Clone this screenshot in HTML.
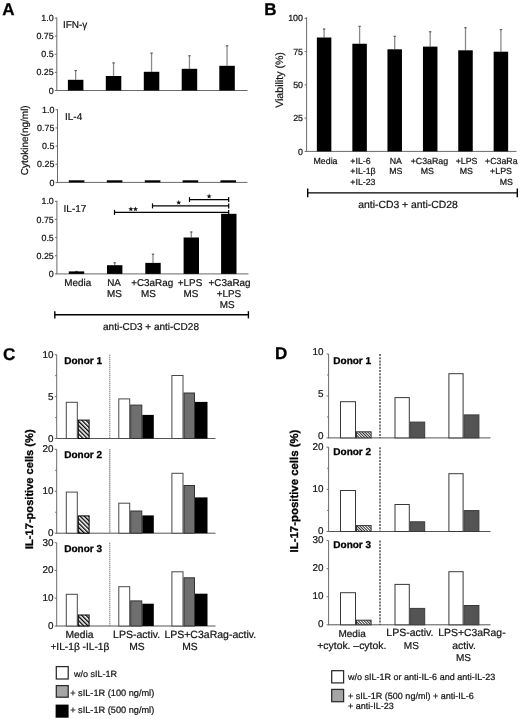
<!DOCTYPE html>
<html><head><meta charset="utf-8"><style>
html,body{margin:0;padding:0;background:#fff;}
svg{display:block;filter:blur(0.3px);}
text{font-family:"Liberation Sans", sans-serif;text-rendering:geometricPrecision;}
</style></head><body>
<svg width="520" height="719" viewBox="0 0 520 719" font-family='"Liberation Sans", sans-serif'>
<defs>
<pattern id="hatchC" patternUnits="userSpaceOnUse" width="3" height="3" patternTransform="rotate(-45)">
<rect width="3" height="3" fill="#fff"/><rect width="1.35" height="3" fill="#000"/></pattern>
<pattern id="hatchD" patternUnits="userSpaceOnUse" width="2" height="2" patternTransform="rotate(-45)">
<rect width="2" height="2" fill="#fff"/><rect width="0.95" height="2" fill="#222"/></pattern>
</defs>
<rect width="520" height="719" fill="#fff"/>
<text x="2.2" y="14.6" font-size="17" text-anchor="start" font-weight="bold" fill="#000" stroke="#000" stroke-width="0.3">A</text>
<line x1="56.8" y1="17.5" x2="56.8" y2="91" stroke="#6a6a6a" stroke-width="1"/>
<line x1="56.8" y1="90.5" x2="247.5" y2="90.5" stroke="#6a6a6a" stroke-width="1"/>
<line x1="54.8" y1="90.5" x2="56.8" y2="90.5" stroke="#6a6a6a" stroke-width="1"/>
<text x="53.7" y="93.6" font-size="8.9" text-anchor="end" fill="#141414" stroke="#141414" stroke-width="0.22">0</text>
<line x1="54.8" y1="72.38" x2="56.8" y2="72.38" stroke="#6a6a6a" stroke-width="1"/>
<text x="53.7" y="75.47" font-size="8.9" text-anchor="end" fill="#141414" stroke="#141414" stroke-width="0.22">0.25</text>
<line x1="54.8" y1="54.25" x2="56.8" y2="54.25" stroke="#6a6a6a" stroke-width="1"/>
<text x="53.7" y="57.35" font-size="8.9" text-anchor="end" fill="#141414" stroke="#141414" stroke-width="0.22">0.5</text>
<line x1="54.8" y1="36.12" x2="56.8" y2="36.12" stroke="#6a6a6a" stroke-width="1"/>
<text x="53.7" y="39.23" font-size="8.9" text-anchor="end" fill="#141414" stroke="#141414" stroke-width="0.22">0.75</text>
<line x1="54.8" y1="18" x2="56.8" y2="18" stroke="#6a6a6a" stroke-width="1"/>
<text x="53.7" y="21.1" font-size="8.9" text-anchor="end" fill="#141414" stroke="#141414" stroke-width="0.22">1.0</text>
<text x="62.9" y="28.1" font-size="10" text-anchor="start" fill="#141414" stroke="#141414" stroke-width="0.22">IFN-γ</text>
<line x1="75.65" y1="79.8" x2="75.65" y2="70.3" stroke="#8a8a8a" stroke-width="1.3"/>
<line x1="74.45" y1="70.6" x2="76.85" y2="70.6" stroke="#555" stroke-width="1.1"/>
<rect x="67.90" y="79.80" width="15.50" height="10.70" fill="#000"/>
<line x1="113.55" y1="76" x2="113.55" y2="62.6" stroke="#8a8a8a" stroke-width="1.3"/>
<line x1="112.35" y1="62.9" x2="114.75" y2="62.9" stroke="#555" stroke-width="1.1"/>
<rect x="105.80" y="76.00" width="15.50" height="14.50" fill="#000"/>
<line x1="151.55" y1="71.8" x2="151.55" y2="52.8" stroke="#8a8a8a" stroke-width="1.3"/>
<line x1="150.35" y1="53.1" x2="152.75" y2="53.1" stroke="#555" stroke-width="1.1"/>
<rect x="143.80" y="71.80" width="15.50" height="18.70" fill="#000"/>
<line x1="189.45" y1="68.8" x2="189.45" y2="55.5" stroke="#8a8a8a" stroke-width="1.3"/>
<line x1="188.25" y1="55.8" x2="190.65" y2="55.8" stroke="#555" stroke-width="1.1"/>
<rect x="181.70" y="68.80" width="15.50" height="21.70" fill="#000"/>
<line x1="227.05" y1="65.8" x2="227.05" y2="45.5" stroke="#8a8a8a" stroke-width="1.3"/>
<line x1="225.85" y1="45.8" x2="228.25" y2="45.8" stroke="#555" stroke-width="1.1"/>
<rect x="219.30" y="65.80" width="15.50" height="24.70" fill="#000"/>
<line x1="57.5" y1="109.3" x2="57.5" y2="182.9" stroke="#6a6a6a" stroke-width="1"/>
<line x1="57.5" y1="182.4" x2="247.5" y2="182.4" stroke="#6a6a6a" stroke-width="1"/>
<line x1="55.5" y1="182.4" x2="57.5" y2="182.4" stroke="#6a6a6a" stroke-width="1"/>
<text x="54.4" y="185.5" font-size="8.9" text-anchor="end" fill="#141414" stroke="#141414" stroke-width="0.22">0</text>
<line x1="55.5" y1="164.25" x2="57.5" y2="164.25" stroke="#6a6a6a" stroke-width="1"/>
<text x="54.4" y="167.35" font-size="8.9" text-anchor="end" fill="#141414" stroke="#141414" stroke-width="0.22">0.25</text>
<line x1="55.5" y1="146.1" x2="57.5" y2="146.1" stroke="#6a6a6a" stroke-width="1"/>
<text x="54.4" y="149.2" font-size="8.9" text-anchor="end" fill="#141414" stroke="#141414" stroke-width="0.22">0.5</text>
<line x1="55.5" y1="127.95" x2="57.5" y2="127.95" stroke="#6a6a6a" stroke-width="1"/>
<text x="54.4" y="131.05" font-size="8.9" text-anchor="end" fill="#141414" stroke="#141414" stroke-width="0.22">0.75</text>
<line x1="55.5" y1="109.8" x2="57.5" y2="109.8" stroke="#6a6a6a" stroke-width="1"/>
<text x="54.4" y="112.9" font-size="8.9" text-anchor="end" fill="#141414" stroke="#141414" stroke-width="0.22">1.0</text>
<text x="65" y="119.8" font-size="10" text-anchor="start" fill="#141414" stroke="#141414" stroke-width="0.22">IL-4</text>
<rect x="68.80" y="180.30" width="15.60" height="2.10" fill="#000"/>
<rect x="106.80" y="180.30" width="15.60" height="2.10" fill="#000"/>
<rect x="144.80" y="180.30" width="15.60" height="2.10" fill="#000"/>
<rect x="182.60" y="180.30" width="15.60" height="2.10" fill="#000"/>
<rect x="220.40" y="180.30" width="15.60" height="2.10" fill="#000"/>
<line x1="56.9" y1="200.8" x2="56.9" y2="274.4" stroke="#6a6a6a" stroke-width="1"/>
<line x1="56.9" y1="273.9" x2="248.5" y2="273.9" stroke="#6a6a6a" stroke-width="1"/>
<line x1="54.9" y1="273.9" x2="56.9" y2="273.9" stroke="#6a6a6a" stroke-width="1"/>
<text x="53.8" y="277" font-size="8.9" text-anchor="end" fill="#141414" stroke="#141414" stroke-width="0.22">0</text>
<line x1="54.9" y1="255.75" x2="56.9" y2="255.75" stroke="#6a6a6a" stroke-width="1"/>
<text x="53.8" y="258.85" font-size="8.9" text-anchor="end" fill="#141414" stroke="#141414" stroke-width="0.22">0.25</text>
<line x1="54.9" y1="237.6" x2="56.9" y2="237.6" stroke="#6a6a6a" stroke-width="1"/>
<text x="53.8" y="240.7" font-size="8.9" text-anchor="end" fill="#141414" stroke="#141414" stroke-width="0.22">0.5</text>
<line x1="54.9" y1="219.45" x2="56.9" y2="219.45" stroke="#6a6a6a" stroke-width="1"/>
<text x="53.8" y="222.55" font-size="8.9" text-anchor="end" fill="#141414" stroke="#141414" stroke-width="0.22">0.75</text>
<line x1="54.9" y1="201.3" x2="56.9" y2="201.3" stroke="#6a6a6a" stroke-width="1"/>
<text x="53.8" y="204.4" font-size="8.9" text-anchor="end" fill="#141414" stroke="#141414" stroke-width="0.22">1.0</text>
<text x="63.6" y="212" font-size="10" text-anchor="start" fill="#141414" stroke="#141414" stroke-width="0.22">IL-17</text>
<line x1="76.5" y1="271.4" x2="76.5" y2="271.1" stroke="#8a8a8a" stroke-width="1.3"/>
<line x1="75.3" y1="271.4" x2="77.7" y2="271.4" stroke="#555" stroke-width="1.1"/>
<rect x="68.80" y="271.40" width="15.40" height="2.50" fill="#000"/>
<line x1="114.7" y1="265.2" x2="114.7" y2="262.5" stroke="#8a8a8a" stroke-width="1.3"/>
<line x1="113.5" y1="262.8" x2="115.9" y2="262.8" stroke="#555" stroke-width="1.1"/>
<rect x="107.00" y="265.20" width="15.40" height="8.70" fill="#000"/>
<line x1="153" y1="262.9" x2="153" y2="253.9" stroke="#8a8a8a" stroke-width="1.3"/>
<line x1="151.8" y1="254.2" x2="154.2" y2="254.2" stroke="#555" stroke-width="1.1"/>
<rect x="145.30" y="262.90" width="15.40" height="11.00" fill="#000"/>
<line x1="191.3" y1="237.5" x2="191.3" y2="231.7" stroke="#8a8a8a" stroke-width="1.3"/>
<line x1="190.1" y1="232" x2="192.5" y2="232" stroke="#555" stroke-width="1.1"/>
<rect x="183.60" y="237.50" width="15.40" height="36.40" fill="#000"/>
<rect x="221.10" y="213.80" width="15.40" height="60.10" fill="#000"/>
<line x1="114.5" y1="212.4" x2="228.7" y2="212.4" stroke="#000" stroke-width="1.2"/>
<line x1="114.5" y1="209.9" x2="114.5" y2="214.9" stroke="#000" stroke-width="1.2"/>
<line x1="228.7" y1="209.9" x2="228.7" y2="214.9" stroke="#000" stroke-width="1.2"/>
<polygon points="130.90,206.40 131.55,208.21 133.47,208.27 131.95,209.44 132.49,211.28 130.90,210.20 129.31,211.28 129.85,209.44 128.33,208.27 130.25,208.21" fill="#111"/>
<polygon points="135.50,206.40 136.15,208.21 138.07,208.27 136.55,209.44 137.09,211.28 135.50,210.20 133.91,211.28 134.45,209.44 132.93,208.27 134.85,208.21" fill="#111"/>
<line x1="152.5" y1="205.9" x2="228.7" y2="205.9" stroke="#000" stroke-width="1.2"/>
<line x1="152.5" y1="203.4" x2="152.5" y2="208.4" stroke="#000" stroke-width="1.2"/>
<line x1="228.7" y1="203.4" x2="228.7" y2="208.4" stroke="#000" stroke-width="1.2"/>
<polygon points="178.70,199.90 179.35,201.71 181.27,201.77 179.75,202.94 180.29,204.78 178.70,203.70 177.11,204.78 177.65,202.94 176.13,201.77 178.05,201.71" fill="#111"/>
<line x1="189.5" y1="199.6" x2="228.7" y2="199.6" stroke="#000" stroke-width="1.2"/>
<line x1="189.5" y1="197.1" x2="189.5" y2="202.1" stroke="#000" stroke-width="1.2"/>
<line x1="228.7" y1="197.1" x2="228.7" y2="202.1" stroke="#000" stroke-width="1.2"/>
<polygon points="209.10,193.60 209.75,195.41 211.67,195.47 210.15,196.64 210.69,198.48 209.10,197.40 207.51,198.48 208.05,196.64 206.53,195.47 208.45,195.41" fill="#111"/>
<text x="77.8" y="286.1" font-size="9.9" text-anchor="middle" fill="#141414" stroke="#141414" stroke-width="0.22">Media</text>
<text x="114" y="286.1" font-size="9.9" text-anchor="middle" fill="#141414" stroke="#141414" stroke-width="0.22">NA</text>
<text x="114.5" y="297.2" font-size="9.9" text-anchor="middle" fill="#141414" stroke="#141414" stroke-width="0.22">MS</text>
<text x="152.2" y="286.1" font-size="9.9" text-anchor="middle" fill="#141414" stroke="#141414" stroke-width="0.22">+C3aRag</text>
<text x="148.5" y="297.2" font-size="9.9" text-anchor="middle" fill="#141414" stroke="#141414" stroke-width="0.22">MS</text>
<text x="190" y="286.1" font-size="9.9" text-anchor="middle" fill="#141414" stroke="#141414" stroke-width="0.22">+LPS</text>
<text x="190.9" y="297.2" font-size="9.9" text-anchor="middle" fill="#141414" stroke="#141414" stroke-width="0.22">MS</text>
<text x="229.6" y="286.1" font-size="9.9" text-anchor="middle" fill="#141414" stroke="#141414" stroke-width="0.22">+C3aRag</text>
<text x="228.9" y="297.2" font-size="9.9" text-anchor="middle" fill="#141414" stroke="#141414" stroke-width="0.22">+LPS</text>
<text x="227.1" y="308.4" font-size="9.9" text-anchor="middle" fill="#141414" stroke="#141414" stroke-width="0.22">MS</text>
<line x1="54.8" y1="314.7" x2="248.4" y2="314.7" stroke="#000" stroke-width="1.4"/>
<line x1="54.8" y1="311.2" x2="54.8" y2="318.4" stroke="#000" stroke-width="1.4"/>
<line x1="248.4" y1="311.2" x2="248.4" y2="318.4" stroke="#000" stroke-width="1.4"/>
<text x="151" y="330.3" font-size="10" text-anchor="middle" fill="#141414" stroke="#141414" stroke-width="0.22">anti-CD3 + anti-CD28</text>
<text x="0" y="0" font-size="10" text-anchor="middle" fill="#141414" stroke="#141414" stroke-width="0.22" transform="translate(27.9,140.3) rotate(-90)">Cytokine(ng/ml)</text>
<text x="264.3" y="14.6" font-size="17" text-anchor="start" font-weight="bold" fill="#000" stroke="#000" stroke-width="0.3">B</text>
<line x1="306.6" y1="17.2" x2="306.6" y2="151.9" stroke="#6a6a6a" stroke-width="1"/>
<line x1="306.6" y1="151.4" x2="516.5" y2="151.4" stroke="#6a6a6a" stroke-width="1"/>
<line x1="304.6" y1="151.4" x2="306.6" y2="151.4" stroke="#6a6a6a" stroke-width="1"/>
<text x="303" y="154.5" font-size="8.9" text-anchor="end" fill="#141414" stroke="#141414" stroke-width="0.22">0</text>
<line x1="304.6" y1="118.12" x2="306.6" y2="118.12" stroke="#6a6a6a" stroke-width="1"/>
<text x="303" y="121.22" font-size="8.9" text-anchor="end" fill="#141414" stroke="#141414" stroke-width="0.22">25</text>
<line x1="304.6" y1="84.85" x2="306.6" y2="84.85" stroke="#6a6a6a" stroke-width="1"/>
<text x="303" y="87.95" font-size="8.9" text-anchor="end" fill="#141414" stroke="#141414" stroke-width="0.22">50</text>
<line x1="304.6" y1="51.58" x2="306.6" y2="51.58" stroke="#6a6a6a" stroke-width="1"/>
<text x="303" y="54.68" font-size="8.9" text-anchor="end" fill="#141414" stroke="#141414" stroke-width="0.22">75</text>
<line x1="304.6" y1="18.3" x2="306.6" y2="18.3" stroke="#6a6a6a" stroke-width="1"/>
<text x="303" y="21.4" font-size="8.9" text-anchor="end" fill="#141414" stroke="#141414" stroke-width="0.22">100</text>
<line x1="324.1" y1="37.5" x2="324.1" y2="28.75" stroke="#8a8a8a" stroke-width="1.3"/>
<line x1="322.9" y1="29.05" x2="325.3" y2="29.05" stroke="#555" stroke-width="1.1"/>
<rect x="316.85" y="37.50" width="14.50" height="113.90" fill="#000"/>
<line x1="359.6" y1="43.75" x2="359.6" y2="26" stroke="#8a8a8a" stroke-width="1.3"/>
<line x1="358.4" y1="26.3" x2="360.8" y2="26.3" stroke="#555" stroke-width="1.1"/>
<rect x="352.35" y="43.75" width="14.50" height="107.65" fill="#000"/>
<line x1="394.7" y1="49.3" x2="394.7" y2="36" stroke="#8a8a8a" stroke-width="1.3"/>
<line x1="393.5" y1="36.3" x2="395.9" y2="36.3" stroke="#555" stroke-width="1.1"/>
<rect x="387.45" y="49.30" width="14.50" height="102.10" fill="#000"/>
<line x1="430.2" y1="46.6" x2="430.2" y2="31.5" stroke="#8a8a8a" stroke-width="1.3"/>
<line x1="429" y1="31.8" x2="431.4" y2="31.8" stroke="#555" stroke-width="1.1"/>
<rect x="422.95" y="46.60" width="14.50" height="104.80" fill="#000"/>
<line x1="465.5" y1="50.3" x2="465.5" y2="27.4" stroke="#8a8a8a" stroke-width="1.3"/>
<line x1="464.3" y1="27.7" x2="466.7" y2="27.7" stroke="#555" stroke-width="1.1"/>
<rect x="458.25" y="50.30" width="14.50" height="101.10" fill="#000"/>
<line x1="500.9" y1="51.7" x2="500.9" y2="29.3" stroke="#8a8a8a" stroke-width="1.3"/>
<line x1="499.7" y1="29.6" x2="502.1" y2="29.6" stroke="#555" stroke-width="1.1"/>
<rect x="493.65" y="51.70" width="14.50" height="99.70" fill="#000"/>
<text x="325.5" y="164.3" font-size="8.8" text-anchor="middle" fill="#141414" stroke="#141414" stroke-width="0.22">Media</text>
<text x="350.3" y="164.3" font-size="8.8" text-anchor="start" fill="#141414" stroke="#141414" stroke-width="0.22">+IL-6</text>
<text x="350.3" y="174.45" font-size="8.8" text-anchor="start" fill="#141414" stroke="#141414" stroke-width="0.22">+IL-1β</text>
<text x="350.3" y="184.6" font-size="8.8" text-anchor="start" fill="#141414" stroke="#141414" stroke-width="0.22">+IL-23</text>
<text x="395.8" y="164.3" font-size="8.8" text-anchor="middle" fill="#141414" stroke="#141414" stroke-width="0.22">NA</text>
<text x="395.8" y="174.45" font-size="8.8" text-anchor="middle" fill="#141414" stroke="#141414" stroke-width="0.22">MS</text>
<text x="429.4" y="164.3" font-size="8.8" text-anchor="middle" fill="#141414" stroke="#141414" stroke-width="0.22">+C3aRag</text>
<text x="427.4" y="174.45" font-size="8.8" text-anchor="middle" fill="#141414" stroke="#141414" stroke-width="0.22">MS</text>
<text x="466.6" y="164.3" font-size="8.8" text-anchor="middle" fill="#141414" stroke="#141414" stroke-width="0.22">+LPS</text>
<text x="466.4" y="174.45" font-size="8.8" text-anchor="middle" fill="#141414" stroke="#141414" stroke-width="0.22">MS</text>
<text x="485" y="164.3" font-size="8.8" text-anchor="start" fill="#141414" stroke="#141414" stroke-width="0.22">+C3aRa</text>
<text x="501" y="174.45" font-size="8.8" text-anchor="middle" fill="#141414" stroke="#141414" stroke-width="0.22">+LPS</text>
<text x="506.4" y="184.6" font-size="8.8" text-anchor="middle" fill="#141414" stroke="#141414" stroke-width="0.22">MS</text>
<line x1="307.7" y1="192.9" x2="517.3" y2="192.9" stroke="#000" stroke-width="1.4"/>
<line x1="307.7" y1="188.4" x2="307.7" y2="197.2" stroke="#000" stroke-width="1.4"/>
<line x1="517.3" y1="188.4" x2="517.3" y2="197.2" stroke="#000" stroke-width="1.4"/>
<text x="408" y="208.3" font-size="10.4" text-anchor="middle" fill="#141414" stroke="#141414" stroke-width="0.22">anti-CD3 + anti-CD28</text>
<text x="0" y="0" font-size="10.6" text-anchor="middle" fill="#141414" stroke="#141414" stroke-width="0.22" transform="translate(283.0,80.0) rotate(-90)">Viability (%)</text>
<text x="3" y="359.8" font-size="17" text-anchor="start" font-weight="bold" fill="#000" stroke="#000" stroke-width="0.3">C</text>
<line x1="56.7" y1="354.7" x2="56.7" y2="439" stroke="#6a6a6a" stroke-width="1"/>
<line x1="56.7" y1="438.5" x2="215.5" y2="438.5" stroke="#555" stroke-width="1"/>
<line x1="54.7" y1="438.5" x2="56.7" y2="438.5" stroke="#6a6a6a" stroke-width="1"/>
<text x="53.5" y="441.5" font-size="9.9" text-anchor="end" fill="#141414" stroke="#141414" stroke-width="0.22">0</text>
<line x1="54.7" y1="396.6" x2="56.7" y2="396.6" stroke="#6a6a6a" stroke-width="1"/>
<text x="53.5" y="399.6" font-size="9.9" text-anchor="end" fill="#141414" stroke="#141414" stroke-width="0.22">5</text>
<line x1="54.7" y1="354.7" x2="56.7" y2="354.7" stroke="#6a6a6a" stroke-width="1"/>
<text x="53.5" y="357.7" font-size="9.9" text-anchor="end" fill="#141414" stroke="#141414" stroke-width="0.22">10</text>
<line x1="55.2" y1="417.55" x2="56.7" y2="417.55" stroke="#6a6a6a" stroke-width="1"/>
<line x1="55.2" y1="375.65" x2="56.7" y2="375.65" stroke="#6a6a6a" stroke-width="1"/>
<text x="64.2" y="364.2" font-size="10" text-anchor="start" font-weight="bold" fill="#000" stroke="#000" stroke-width="0.3">Donor 1</text>
<line x1="109.8" y1="354.7" x2="109.8" y2="438.5" stroke="#5a5a5a" stroke-width="1.1" stroke-dasharray="1.1,0.9"/>
<rect x="66.30" y="402.30" width="11.00" height="36.20" fill="#fff" stroke="#484848" stroke-width="1"/>
<rect x="78.30" y="420.10" width="10.80" height="18.40" fill="url(#hatchC)" stroke="#000" stroke-width="1"/>
<rect x="118.80" y="398.90" width="10.90" height="39.60" fill="#fff" stroke="#484848" stroke-width="1"/>
<rect x="130.70" y="405.10" width="11.10" height="33.40" fill="#6f6f6f" stroke="#333" stroke-width="1"/>
<rect x="142.30" y="414.90" width="11.50" height="23.60" fill="#000"/>
<rect x="171.90" y="375.50" width="11.10" height="63.00" fill="#fff" stroke="#484848" stroke-width="1"/>
<rect x="184.00" y="393.00" width="10.50" height="45.50" fill="#6f6f6f" stroke="#333" stroke-width="1"/>
<rect x="195.00" y="401.90" width="12.50" height="36.60" fill="#000"/>
<line x1="56.7" y1="449.3" x2="56.7" y2="533.7" stroke="#6a6a6a" stroke-width="1"/>
<line x1="56.7" y1="533.2" x2="215.5" y2="533.2" stroke="#555" stroke-width="1"/>
<line x1="54.7" y1="533.2" x2="56.7" y2="533.2" stroke="#6a6a6a" stroke-width="1"/>
<text x="53.5" y="536.2" font-size="9.9" text-anchor="end" fill="#141414" stroke="#141414" stroke-width="0.22">0</text>
<line x1="54.7" y1="491.25" x2="56.7" y2="491.25" stroke="#6a6a6a" stroke-width="1"/>
<text x="53.5" y="494.25" font-size="9.9" text-anchor="end" fill="#141414" stroke="#141414" stroke-width="0.22">10</text>
<line x1="54.7" y1="449.3" x2="56.7" y2="449.3" stroke="#6a6a6a" stroke-width="1"/>
<text x="53.5" y="452.3" font-size="9.9" text-anchor="end" fill="#141414" stroke="#141414" stroke-width="0.22">20</text>
<line x1="55.2" y1="512.23" x2="56.7" y2="512.23" stroke="#6a6a6a" stroke-width="1"/>
<line x1="55.2" y1="470.28" x2="56.7" y2="470.28" stroke="#6a6a6a" stroke-width="1"/>
<text x="64.2" y="458.2" font-size="10" text-anchor="start" font-weight="bold" fill="#000" stroke="#000" stroke-width="0.3">Donor 2</text>
<line x1="109.8" y1="449.3" x2="109.8" y2="533.2" stroke="#5a5a5a" stroke-width="1.1" stroke-dasharray="1.1,0.9"/>
<rect x="66.30" y="492.10" width="11.00" height="41.10" fill="#fff" stroke="#484848" stroke-width="1"/>
<rect x="78.30" y="515.90" width="10.80" height="17.30" fill="url(#hatchC)" stroke="#000" stroke-width="1"/>
<rect x="118.80" y="503.20" width="10.90" height="30.00" fill="#fff" stroke="#484848" stroke-width="1"/>
<rect x="130.70" y="511.00" width="11.10" height="22.20" fill="#6f6f6f" stroke="#333" stroke-width="1"/>
<rect x="142.30" y="515.40" width="11.50" height="17.80" fill="#000"/>
<rect x="171.90" y="473.30" width="11.10" height="59.90" fill="#fff" stroke="#484848" stroke-width="1"/>
<rect x="184.00" y="485.50" width="10.50" height="47.70" fill="#6f6f6f" stroke="#333" stroke-width="1"/>
<rect x="195.00" y="497.40" width="12.50" height="35.80" fill="#000"/>
<line x1="56.7" y1="542.7" x2="56.7" y2="626.5" stroke="#6a6a6a" stroke-width="1"/>
<line x1="56.7" y1="626" x2="215.5" y2="626" stroke="#555" stroke-width="1"/>
<line x1="54.7" y1="626" x2="56.7" y2="626" stroke="#6a6a6a" stroke-width="1"/>
<text x="53.5" y="629" font-size="9.9" text-anchor="end" fill="#141414" stroke="#141414" stroke-width="0.22">0</text>
<line x1="54.7" y1="598.23" x2="56.7" y2="598.23" stroke="#6a6a6a" stroke-width="1"/>
<text x="53.5" y="601.23" font-size="9.9" text-anchor="end" fill="#141414" stroke="#141414" stroke-width="0.22">10</text>
<line x1="54.7" y1="570.47" x2="56.7" y2="570.47" stroke="#6a6a6a" stroke-width="1"/>
<text x="53.5" y="573.47" font-size="9.9" text-anchor="end" fill="#141414" stroke="#141414" stroke-width="0.22">20</text>
<line x1="54.7" y1="542.7" x2="56.7" y2="542.7" stroke="#6a6a6a" stroke-width="1"/>
<text x="53.5" y="545.7" font-size="9.9" text-anchor="end" fill="#141414" stroke="#141414" stroke-width="0.22">30</text>
<text x="64.2" y="552" font-size="10" text-anchor="start" font-weight="bold" fill="#000" stroke="#000" stroke-width="0.3">Donor 3</text>
<line x1="109.8" y1="542.7" x2="109.8" y2="626" stroke="#5a5a5a" stroke-width="1.1" stroke-dasharray="1.1,0.9"/>
<rect x="66.30" y="594.30" width="11.00" height="31.70" fill="#fff" stroke="#484848" stroke-width="1"/>
<rect x="78.30" y="615.00" width="10.80" height="11.00" fill="url(#hatchC)" stroke="#000" stroke-width="1"/>
<rect x="118.80" y="586.70" width="10.90" height="39.30" fill="#fff" stroke="#484848" stroke-width="1"/>
<rect x="130.70" y="600.90" width="11.10" height="25.10" fill="#6f6f6f" stroke="#333" stroke-width="1"/>
<rect x="142.30" y="603.70" width="11.50" height="22.30" fill="#000"/>
<rect x="171.90" y="571.80" width="11.10" height="54.20" fill="#fff" stroke="#484848" stroke-width="1"/>
<rect x="184.00" y="577.80" width="10.50" height="48.20" fill="#6f6f6f" stroke="#333" stroke-width="1"/>
<rect x="195.00" y="593.70" width="12.50" height="32.30" fill="#000"/>
<text x="0" y="0" font-size="11.1" text-anchor="middle" font-weight="bold" fill="#000" stroke="#000" stroke-width="0.3" transform="translate(32.9,489.2) rotate(-90)">IL-17-positive cells (%)</text>
<text x="79.5" y="638.3" font-size="10.3" text-anchor="middle" fill="#141414" stroke="#141414" stroke-width="0.22">Media</text>
<text x="79.9" y="650.4" font-size="10.2" text-anchor="middle" fill="#141414" stroke="#141414" stroke-width="0.22">+IL-1β -IL-1β</text>
<text x="136.6" y="638.4" font-size="10.5" text-anchor="middle" fill="#141414" stroke="#141414" stroke-width="0.22">LPS-activ.</text>
<text x="136.9" y="650.4" font-size="10.3" text-anchor="middle" fill="#141414" stroke="#141414" stroke-width="0.22">MS</text>
<text x="164.4" y="638.4" font-size="10.5" text-anchor="start" fill="#141414" stroke="#141414" stroke-width="0.22">LPS+C3aRag-activ.</text>
<text x="189.9" y="650.4" font-size="10.3" text-anchor="middle" fill="#141414" stroke="#141414" stroke-width="0.22">MS</text>
<rect x="56.30" y="666.60" width="11.90" height="12.40" fill="#fff" stroke="#2a2a2a" stroke-width="1.25"/>
<text x="74" y="676.5" font-size="9" text-anchor="start" fill="#141414" stroke="#141414" stroke-width="0.22">w/o sIL-1R</text>
<rect x="56.30" y="685.60" width="11.90" height="11.60" fill="#a5a5a5" stroke="#2a2a2a" stroke-width="1.25"/>
<text x="70.2" y="695.5" font-size="9.2" text-anchor="start" fill="#141414" stroke="#141414" stroke-width="0.22">+ sIL-1R (100 ng/ml)</text>
<rect x="55.60" y="704.60" width="13.00" height="13.10" fill="#000"/>
<text x="70.2" y="712.9" font-size="9.2" text-anchor="start" fill="#141414" stroke="#141414" stroke-width="0.22">+ sIL-1R (500 ng/ml)</text>
<text x="275" y="358.6" font-size="17" text-anchor="start" font-weight="bold" fill="#000" stroke="#000" stroke-width="0.3">D</text>
<line x1="328.6" y1="354" x2="328.6" y2="438.4" stroke="#6a6a6a" stroke-width="1"/>
<line x1="328.6" y1="437.9" x2="490.5" y2="437.9" stroke="#555" stroke-width="1"/>
<line x1="326.6" y1="437.9" x2="328.6" y2="437.9" stroke="#6a6a6a" stroke-width="1"/>
<text x="323.6" y="439.2" font-size="9.9" text-anchor="end" fill="#141414" stroke="#141414" stroke-width="0.22">0</text>
<line x1="326.6" y1="395.95" x2="328.6" y2="395.95" stroke="#6a6a6a" stroke-width="1"/>
<text x="323.6" y="397.25" font-size="9.9" text-anchor="end" fill="#141414" stroke="#141414" stroke-width="0.22">5</text>
<line x1="326.6" y1="354" x2="328.6" y2="354" stroke="#6a6a6a" stroke-width="1"/>
<text x="323.6" y="355.3" font-size="9.9" text-anchor="end" fill="#141414" stroke="#141414" stroke-width="0.22">10</text>
<line x1="327.1" y1="416.92" x2="328.6" y2="416.92" stroke="#6a6a6a" stroke-width="1"/>
<line x1="327.1" y1="374.98" x2="328.6" y2="374.98" stroke="#6a6a6a" stroke-width="1"/>
<text x="333.3" y="363.8" font-size="10" text-anchor="start" font-weight="bold" fill="#000" stroke="#000" stroke-width="0.3">Donor 1</text>
<line x1="380" y1="354" x2="380" y2="437.9" stroke="#222" stroke-width="1.2" stroke-dasharray="2,1.2"/>
<rect x="340.50" y="401.70" width="15.00" height="36.20" fill="#fff" stroke="#383838" stroke-width="1"/>
<rect x="356.50" y="431.80" width="14.60" height="6.10" fill="url(#hatchD)" stroke="#333" stroke-width="1"/>
<rect x="395.00" y="397.60" width="14.30" height="40.30" fill="#fff" stroke="#383838" stroke-width="1"/>
<rect x="410.30" y="422.10" width="14.40" height="15.80" fill="#545454" stroke="#3a3a3a" stroke-width="1"/>
<rect x="448.90" y="373.70" width="14.20" height="64.20" fill="#fff" stroke="#383838" stroke-width="1"/>
<rect x="464.10" y="414.90" width="14.80" height="23.00" fill="#545454" stroke="#3a3a3a" stroke-width="1"/>
<line x1="328.6" y1="447.2" x2="328.6" y2="532" stroke="#6a6a6a" stroke-width="1"/>
<line x1="328.6" y1="531.5" x2="490.5" y2="531.5" stroke="#555" stroke-width="1"/>
<line x1="326.6" y1="531.5" x2="328.6" y2="531.5" stroke="#6a6a6a" stroke-width="1"/>
<text x="323.6" y="533.8" font-size="9.9" text-anchor="end" fill="#141414" stroke="#141414" stroke-width="0.22">0</text>
<line x1="326.6" y1="489.35" x2="328.6" y2="489.35" stroke="#6a6a6a" stroke-width="1"/>
<text x="323.6" y="491.65" font-size="9.9" text-anchor="end" fill="#141414" stroke="#141414" stroke-width="0.22">10</text>
<line x1="326.6" y1="447.2" x2="328.6" y2="447.2" stroke="#6a6a6a" stroke-width="1"/>
<text x="323.6" y="449.5" font-size="9.9" text-anchor="end" fill="#141414" stroke="#141414" stroke-width="0.22">20</text>
<line x1="327.1" y1="510.43" x2="328.6" y2="510.43" stroke="#6a6a6a" stroke-width="1"/>
<line x1="327.1" y1="468.27" x2="328.6" y2="468.27" stroke="#6a6a6a" stroke-width="1"/>
<text x="333.3" y="455.4" font-size="10" text-anchor="start" font-weight="bold" fill="#000" stroke="#000" stroke-width="0.3">Donor 2</text>
<line x1="380" y1="447.2" x2="380" y2="531.5" stroke="#222" stroke-width="1.2" stroke-dasharray="2,1.2"/>
<rect x="340.50" y="490.50" width="15.00" height="41.00" fill="#fff" stroke="#383838" stroke-width="1"/>
<rect x="356.50" y="525.60" width="14.60" height="5.90" fill="url(#hatchD)" stroke="#333" stroke-width="1"/>
<rect x="395.00" y="504.50" width="14.30" height="27.00" fill="#fff" stroke="#383838" stroke-width="1"/>
<rect x="410.30" y="521.80" width="14.40" height="9.70" fill="#545454" stroke="#3a3a3a" stroke-width="1"/>
<rect x="448.90" y="473.70" width="14.20" height="57.80" fill="#fff" stroke="#383838" stroke-width="1"/>
<rect x="464.10" y="510.60" width="14.80" height="20.90" fill="#545454" stroke="#3a3a3a" stroke-width="1"/>
<line x1="328.6" y1="540.6" x2="328.6" y2="625.3" stroke="#6a6a6a" stroke-width="1"/>
<line x1="328.6" y1="624.8" x2="490.5" y2="624.8" stroke="#555" stroke-width="1"/>
<line x1="326.6" y1="624.8" x2="328.6" y2="624.8" stroke="#6a6a6a" stroke-width="1"/>
<text x="323.6" y="626.9" font-size="9.9" text-anchor="end" fill="#141414" stroke="#141414" stroke-width="0.22">0</text>
<line x1="326.6" y1="596.73" x2="328.6" y2="596.73" stroke="#6a6a6a" stroke-width="1"/>
<text x="323.6" y="598.83" font-size="9.9" text-anchor="end" fill="#141414" stroke="#141414" stroke-width="0.22">10</text>
<line x1="326.6" y1="568.67" x2="328.6" y2="568.67" stroke="#6a6a6a" stroke-width="1"/>
<text x="323.6" y="570.77" font-size="9.9" text-anchor="end" fill="#141414" stroke="#141414" stroke-width="0.22">20</text>
<line x1="326.6" y1="540.6" x2="328.6" y2="540.6" stroke="#6a6a6a" stroke-width="1"/>
<text x="323.6" y="542.7" font-size="9.9" text-anchor="end" fill="#141414" stroke="#141414" stroke-width="0.22">30</text>
<text x="333.3" y="548.4" font-size="10" text-anchor="start" font-weight="bold" fill="#000" stroke="#000" stroke-width="0.3">Donor 3</text>
<line x1="380" y1="540.6" x2="380" y2="624.8" stroke="#222" stroke-width="1.2" stroke-dasharray="2,1.2"/>
<rect x="340.50" y="592.70" width="15.00" height="32.10" fill="#fff" stroke="#383838" stroke-width="1"/>
<rect x="356.50" y="620.20" width="14.60" height="4.60" fill="url(#hatchD)" stroke="#333" stroke-width="1"/>
<rect x="395.00" y="584.40" width="14.30" height="40.40" fill="#fff" stroke="#383838" stroke-width="1"/>
<rect x="410.30" y="608.40" width="14.40" height="16.40" fill="#545454" stroke="#3a3a3a" stroke-width="1"/>
<rect x="448.90" y="571.70" width="14.20" height="53.10" fill="#fff" stroke="#383838" stroke-width="1"/>
<rect x="464.10" y="605.50" width="14.80" height="19.30" fill="#545454" stroke="#3a3a3a" stroke-width="1"/>
<text x="0" y="0" font-size="11.4" text-anchor="middle" font-weight="bold" fill="#000" stroke="#000" stroke-width="0.3" transform="translate(297.9,491.0) rotate(-90)">IL-17-positive cells (%)</text>
<text x="352.1" y="637" font-size="10" text-anchor="middle" fill="#141414" stroke="#141414" stroke-width="0.22">Media</text>
<text x="351.8" y="648.7" font-size="10.4" text-anchor="middle" fill="#141414" stroke="#141414" stroke-width="0.22">+cytok. –cytok.</text>
<text x="409.9" y="636" font-size="10.5" text-anchor="middle" fill="#141414" stroke="#141414" stroke-width="0.22">LPS-activ.</text>
<text x="411.3" y="648.8" font-size="10" text-anchor="middle" fill="#141414" stroke="#141414" stroke-width="0.22">MS</text>
<text x="438.3" y="636" font-size="10.4" text-anchor="start" fill="#141414" stroke="#141414" stroke-width="0.22">LPS+C3aRag-</text>
<text x="464.1" y="648.8" font-size="10.4" text-anchor="middle" fill="#141414" stroke="#141414" stroke-width="0.22">activ.</text>
<text x="463.5" y="661" font-size="10" text-anchor="middle" fill="#141414" stroke="#141414" stroke-width="0.22">MS</text>
<rect x="331.70" y="670.70" width="11.90" height="12.20" fill="#fff" stroke="#2a2a2a" stroke-width="1.25"/>
<text x="348.1" y="680.1" font-size="9" text-anchor="start" fill="#141414" stroke="#141414" stroke-width="0.22">w/o sIL-1R or anti-IL-6 and anti-IL-23</text>
<rect x="331.70" y="689.40" width="11.90" height="12.30" fill="#a5a5a5" stroke="#2a2a2a" stroke-width="1.25"/>
<text x="348.1" y="698.8" font-size="9" text-anchor="start" fill="#141414" stroke="#141414" stroke-width="0.22">+ sIL-1R (500 ng/ml) + anti-IL-6</text>
<text x="348.1" y="708.8" font-size="9" text-anchor="start" fill="#141414" stroke="#141414" stroke-width="0.22">+ anti-IL-23</text>
</svg>
</body></html>
